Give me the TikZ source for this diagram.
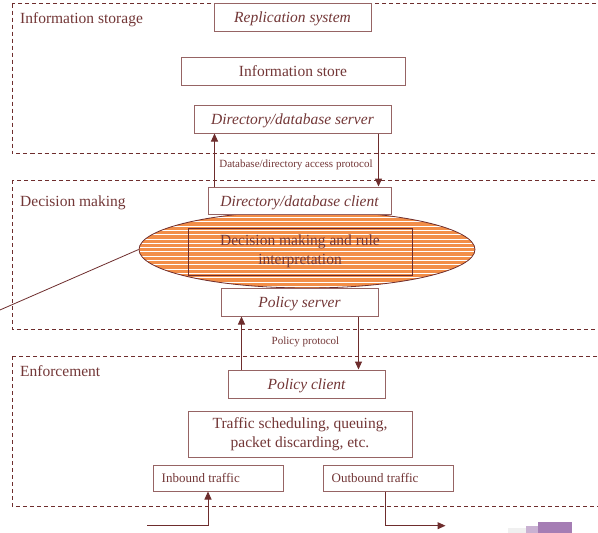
\documentclass[tikz,border=0pt]{standalone}
\usepackage{fontspec}
\setmainfont{Liberation Serif}
\usetikzlibrary{arrows.meta,calc,shapes.geometric}
\definecolor{dk}{RGB}{110,45,45}
\definecolor{bx}{RGB}{150,100,100}
\definecolor{tx}{RGB}{115,55,55}
\definecolor{org}{RGB}{242,142,72}
\definecolor{blob}{RGB}{165,125,180}
\begin{document}
\begin{tikzpicture}[x=1pt,y=-1pt,
  box/.style={draw=bx, line width=1pt, fill=white, inner sep=0pt, text=tx,
    font=\fontsize{15.5}{19}\selectfont, align=center},
  onebox/.style={box, text height=12pt, text depth=1pt},
  smallbox/.style={draw=bx, line width=1pt, fill=white, inner sep=0pt,
    minimum width=130pt, minimum height=26pt},
  smalltxt/.style={text=tx, font=\fontsize{13}{15}\selectfont, inner sep=0pt, anchor=west},
  zone/.style={draw=dk, line width=0.9pt, dash pattern=on 4pt off 3pt},
  zlabel/.style={text=tx, font=\fontsize{15.5}{19}\selectfont, inner sep=0pt, anchor=base west},
  plabel/.style={text=tx, font=\fontsize{11}{13}\selectfont, inner sep=0pt, anchor=base},
  arr/.style={draw=dk, line width=1pt, -{Triangle[length=8pt,width=7pt]}},
  conn/.style={draw=dk, line width=0.8pt}
]
\useasboundingbox (0,0) rectangle (598,533);
\clip (0,0) rectangle (598,533);
\fill[white] (0,0) rectangle (598,533);

% zones
\draw[zone] (12,3.5) rectangle (620,153);
\draw[zone] (12,180) rectangle (620,329);
\draw[zone] (12,356) rectangle (620,506);
\node[zlabel] (zl1) at (20,23) {Information storage};
\node[zlabel] (zl2) at (20,206) {Decision making};
\node[zlabel] (zl3) at (20,376) {Enforcement};

% information storage
\node[onebox, minimum width=157pt, minimum height=28pt] (rep) at (292.5,17) {\itshape Replication system};
\node[onebox, minimum width=224pt, minimum height=28pt] (store) at (293,71) {Information store};
\node[onebox, minimum width=197pt, minimum height=28pt] (dserver) at (292.5,119) {\itshape Directory/database server};

% decision making ellipse
\node[ellipse, draw=dk, line width=0.8pt, fill=org, inner sep=0pt,
  minimum width=336pt, minimum height=77pt,
  path picture={
    \foreach \k in {0,...,19}
      \draw[white, line width=1pt]
        ($(path picture bounding box.north west)+(-5,2.2+4.3*\k)$) -- ++(360,0);
  }] (ell) at (307,249.5) {};
\node[draw=dk, line width=1pt, inner sep=0pt, minimum width=224pt, minimum height=47pt,
  text=tx, font=\fontsize{15.5}{19}\selectfont, align=center] (dm) at (300,251.5)
  {Decision making and rule\\interpretation};
\coordinate (lf) at (-4,311.7);
\draw[conn] (ell.west) -- (lf);

\node[onebox, minimum width=183pt, minimum height=27pt] (dclient) at (299.5,200.5) {\itshape Directory/database client};
\node[onebox, minimum width=157pt, minimum height=28pt] (pserver) at (299.5,302) {\itshape Policy server};

% database protocol arrows
\draw[arr] ([xshift=7pt]dclient.north west) -- ([xshift=7pt]dclient.north west |- dserver.south);
\draw[arr] ([xshift=-13pt]dserver.south east) -- ([xshift=-13pt]dserver.south east |- dclient.north);
\node[plabel] (dbl) at (296,167) {Database/directory access protocol};

% enforcement
\node[onebox, minimum width=157pt, minimum height=28pt] (pclient) at (306.5,384) {\itshape Policy client};
\node[box, minimum width=224pt, minimum height=46pt] (traffic) at (300,434)
  {Traffic scheduling, queuing,\\packet discarding, etc.};
\node[smallbox] (inb) at (218,478) {};
\node[smalltxt] (inbt) at ([xshift=9pt]inb.west) {Inbound traffic};
\node[smallbox] (outb) at (388,478) {};
\node[smalltxt] (outbt) at ([xshift=9pt]outb.west) {Outbound traffic};

% policy protocol arrows
\draw[arr] ([xshift=14pt]pclient.north west) -- ([xshift=14pt]pclient.north west |- pserver.south);
\draw[arr] ([xshift=-20pt]pserver.south east) -- ([xshift=-20pt]pserver.south east |- pclient.north);
\node[plabel] (ppl) at (305.5,344) {Policy protocol};

% traffic arrows
\coordinate (inS) at (147,525.7);
\coordinate (outE) at (445.5,525.7);
\draw[arr] (inS) -| ([xshift=-10pt]inb.south);
\draw[arr] ([xshift=-3pt]outb.south) |- (outE);

% faint smudge
\fill[gray!12] (508,528) rectangle (536,533);
\fill[blob!60] (526,526) rectangle (560,533);
\fill[blob] (538,522) rectangle (572,533);
\end{tikzpicture}
\end{document}
